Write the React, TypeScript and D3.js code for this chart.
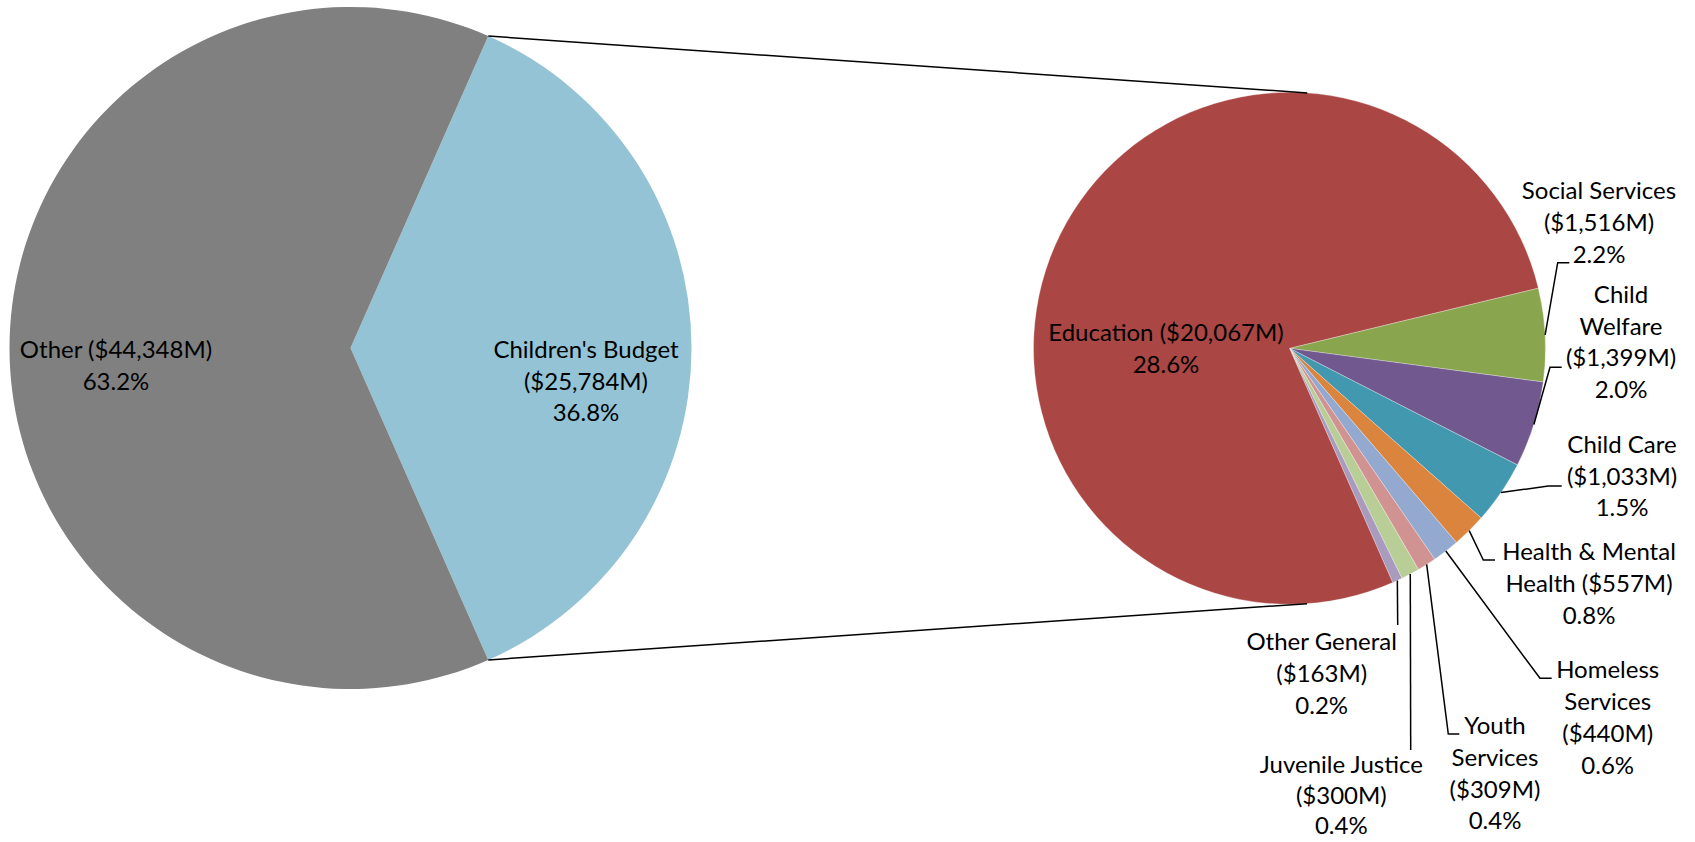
import React from "react";
import * as d3 from "d3";

// ---- Data ----
const OUTER_NAMES = ["Children's Budget", "Other"];
const OUTER_VALUES = [25784, 44348];
const OUTER_COLORS = ["#93C3D5", "#808080"];

const INNER_NAMES = [
  "Social Services",
  "Child Welfare",
  "Child Care",
  "Health & Mental Health",
  "Homeless Services",
  "Youth Services",
  "Juvenile Justice",
  "Other General",
  "Education",
];
const INNER_VALUES = [1516, 1399, 1033, 557, 440, 309, 300, 163, 20067];
const INNER_COLORS = [
  "#89A54E",
  "#71588F",
  "#4198AF",
  "#DB843D",
  "#93A9CF",
  "#D19392",
  "#B9CD96",
  "#A99BBD",
  "#AA4643",
];

// ---- Layout (label placement) ----
const W = 1695;
const H = 842;
const LEFT = { cx: 350.5, cy: 348, r: 341 };
const RIGHT = { cx: 1289.5, cy: 348.3, r: 256, startDeg: 76.4 };
const FONT = "Lato, 'Noto Sans', sans-serif";
const FONT_SIZE = 24;
const LINE_H = 31.8;

type LabelLayout = {
  lines: string[];
  cx: number;
  y0: number;
  lh?: number;
  elbow?: [number, number];
  end?: [number, number];
};

const OUTER_LABELS: Record<string, LabelLayout> = {
  "Children's Budget": { lines: ["Children's Budget", "({v})", "{p}"], cx: 586, y0: 357.7 },
  Other: { lines: ["Other ({v})", "{p}"], cx: 116, y0: 357.7 },
};

const INNER_LABELS: Record<string, LabelLayout> = {
  Education: { lines: ["Education ({v})", "{p}"], cx: 1166, y0: 340.7 },
  "Social Services": {
    lines: ["Social Services", "({v})", "{p}"],
    cx: 1599, y0: 199.3, elbow: [1557.7, 262.7], end: [1569.3, 262.7],
  },
  "Child Welfare": {
    lines: ["Child", "Welfare", "({v})", "{p}"],
    cx: 1621, y0: 302.7, elbow: [1550, 367.3], end: [1561.7, 367.3],
  },
  "Child Care": {
    lines: ["Child Care", "({v})", "{p}"],
    cx: 1622, y0: 452.7, elbow: [1548.3, 486], end: [1561.7, 486],
  },
  "Health & Mental Health": {
    lines: ["Health & Mental", "Health ({v})", "{p}"],
    cx: 1589, y0: 560, elbow: [1483.3, 560], end: [1495, 560],
  },
  "Homeless Services": {
    lines: ["Homeless", "Services", "({v})", "{p}"],
    cx: 1607.7, y0: 678.3, elbow: [1540, 678.3], end: [1551.7, 678.3],
  },
  "Youth Services": {
    lines: ["Youth", "Services", "({v})", "{p}"],
    cx: 1495, y0: 734, elbow: [1448.3, 734], end: [1459.3, 734],
  },
  "Juvenile Justice": {
    lines: ["Juvenile Justice", "({v})", "{p}"],
    cx: 1341.3, y0: 773, lh: 30.5, end: [1410.7, 750],
  },
  "Other General": {
    lines: ["Other General", "({v})", "{p}"],
    cx: 1321.7, y0: 650, end: [1397.7, 625],
  },
};

const TOTAL = d3.sum(OUTER_VALUES);
const fmtVal = (v: number) => `$${d3.format(",")(v)}M`;
const fmtPct = (v: number) => `${d3.format(".1f")((v / TOTAL) * 100)}%`;

function fill(line: string, v: number) {
  return line.replace("{v}", fmtVal(v)).replace("{p}", fmtPct(v));
}

function tangentPoint(px: number, py: number, c: { cx: number; cy: number; r: number }, sign: number) {
  const dx = px - c.cx;
  const dy = py - c.cy;
  const d = Math.hypot(dx, dy);
  const base = Math.atan2(dy, dx);
  const off = Math.acos(c.r / d);
  const a = base + sign * off;
  return [c.cx + c.r * Math.cos(a), c.cy + c.r * Math.sin(a)];
}

function Label({ lay, v }: { lay: LabelLayout; v: number }) {
  const lh = lay.lh ?? LINE_H;
  return (
    <text textAnchor="middle" fontFamily={FONT} fontSize={FONT_SIZE} fill="#000">
      {lay.lines.map((l, i) => (
        <tspan key={i} x={lay.cx} y={lay.y0 + i * lh}>
          {fill(l, v)}
        </tspan>
      ))}
    </text>
  );
}

export default function App() {
  const toRad = (deg: number) => (deg * Math.PI) / 180;

  // Left pie: Children's Budget centred at 3 o'clock
  const cbAngle = (OUTER_VALUES[0] / TOTAL) * 2 * Math.PI;
  const leftStart = Math.PI / 2 - cbAngle / 2;
  const leftPie = d3
    .pie<number>()
    .sort(null)
    .startAngle(leftStart)
    .endAngle(leftStart + 2 * Math.PI)(OUTER_VALUES);
  const leftArc = d3.arc<d3.PieArcDatum<number>>().innerRadius(0).outerRadius(LEFT.r);

  const innerStart = toRad(RIGHT.startDeg);
  const rightPie = d3
    .pie<number>()
    .sort(null)
    .startAngle(innerStart)
    .endAngle(innerStart + 2 * Math.PI)(INNER_VALUES);
  const rightArc = d3.arc<d3.PieArcDatum<number>>().innerRadius(0).outerRadius(RIGHT.r);

  // Split points on the left pie
  const cb = leftPie[0];
  const pTop = [LEFT.cx + LEFT.r * Math.sin(cb.startAngle), LEFT.cy - LEFT.r * Math.cos(cb.startAngle)];
  const pBot = [LEFT.cx + LEFT.r * Math.sin(cb.endAngle), LEFT.cy - LEFT.r * Math.cos(cb.endAngle)];
  const tTop = tangentPoint(pTop[0], pTop[1], RIGHT, 1);
  const tBot = tangentPoint(pBot[0], pBot[1], RIGHT, -1);

  return (
    <svg
      width={W}
      height={H}
      style={{ position: "absolute", left: 0, top: 0, display: "block", background: "#fff" }}
    >
      <g transform={`translate(${LEFT.cx},${LEFT.cy})`}>
        {leftPie.map((d, i) => (
          <path key={i} d={leftArc(d) || ""} fill={OUTER_COLORS[i]} />
        ))}
      </g>
      <g transform={`translate(${RIGHT.cx},${RIGHT.cy})`}>
        {rightPie.map((d, i) => (
          <path key={i} d={rightArc(d) || ""} fill={INNER_COLORS[i]} stroke="#fff" strokeWidth={0.3} />
        ))}
      </g>

      {/* connector lines */}
      <line x1={pTop[0]} y1={pTop[1]} x2={tTop[0]} y2={tTop[1]} stroke="#000" strokeWidth={1.5} />
      <line x1={pBot[0]} y1={pBot[1]} x2={tBot[0]} y2={tBot[1]} stroke="#000" strokeWidth={1.5} />

      {/* leader lines */}
      {rightPie.map((d, i) => {
        const lay = INNER_LABELS[INNER_NAMES[i]];
        if (!lay || !lay.end) return null;
        const mid = (d.startAngle + d.endAngle) / 2;
        const sx = RIGHT.cx + RIGHT.r * Math.sin(mid);
        const sy = RIGHT.cy - RIGHT.r * Math.cos(mid);
        const pts: [number, number][] = [[sx, sy]];
        if (lay.elbow) pts.push(lay.elbow);
        pts.push(lay.end);
        return (
          <path key={`l${i}`} d={d3.line()(pts) || ""} fill="none" stroke="#000" strokeWidth={1.5} />
        );
      })}

      {/* labels */}
      {OUTER_NAMES.map((n, i) => (
        <Label key={n} lay={OUTER_LABELS[n]} v={OUTER_VALUES[i]} />
      ))}
      {INNER_NAMES.map((n, i) => (
        <Label key={n} lay={INNER_LABELS[n]} v={INNER_VALUES[i]} />
      ))}
    </svg>
  );
}
